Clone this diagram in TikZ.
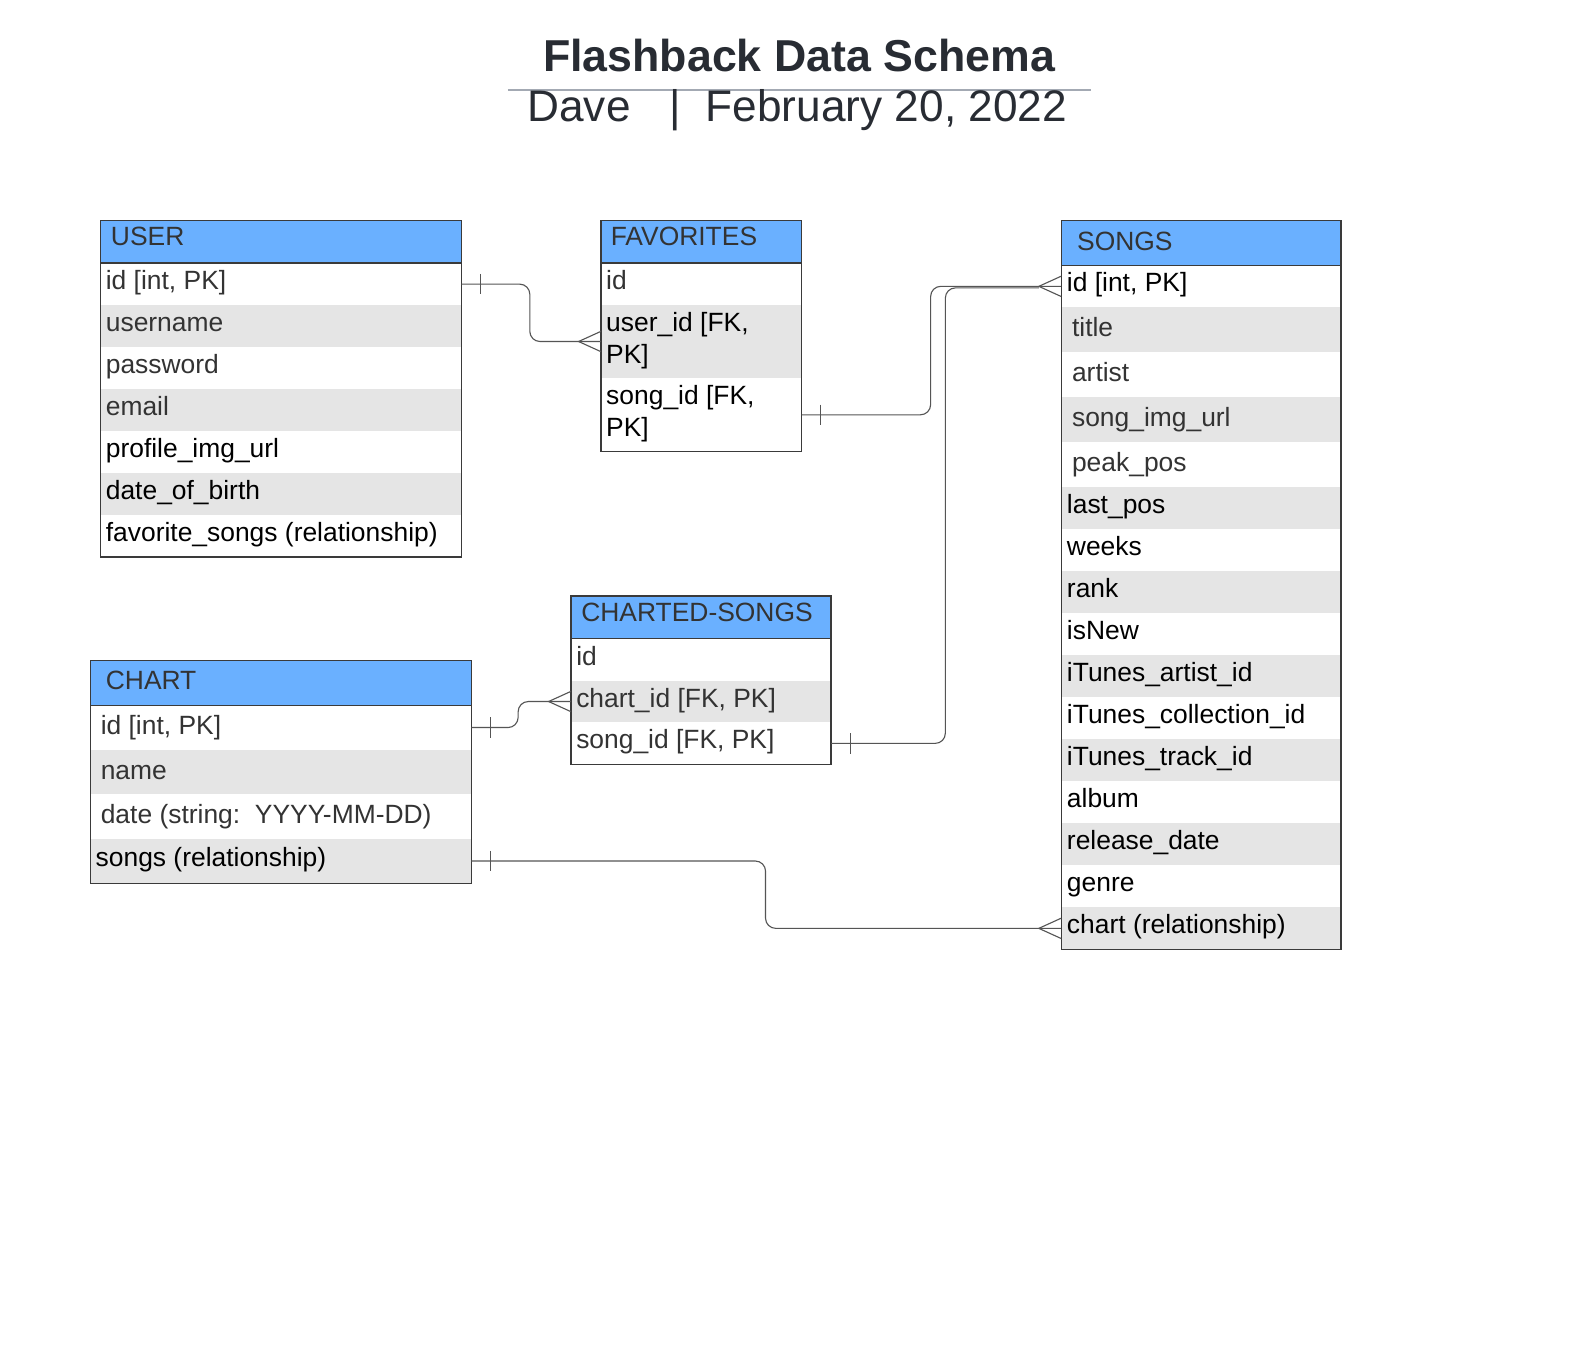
\documentclass[tikz,border=0pt]{standalone}
\usepackage{fontspec}
\setmainfont{Liberation Sans}
\usetikzlibrary{calc}
\definecolor{hdrblue}{RGB}{106,176,255}
\definecolor{rowgray}{RGB}{229,229,229}
\definecolor{dk}{HTML}{333333}
\definecolor{titlec}{HTML}{282C33}
\definecolor{bordc}{HTML}{3A3A3A}
\definecolor{connc}{HTML}{555555}
\definecolor{tline}{HTML}{A3A9B3}
\newcommand\erow[8]{%
  \node[cell,fill=#6,minimum width=#4pt,minimum height=#5pt] (#1) at (#2,#3) {};
  \node[celltext,#7] (#1t) at (#1.west) {#8};}
\tikzset{
  cell/.style={rectangle,anchor=north west,inner sep=0pt,outer sep=0pt,draw=none},
  celltext/.style={anchor=base west,inner sep=0pt,font=\fontsize{26}{31}\selectfont},
  dkrow/.style={text=dk,xshift=5pt,yshift=-5.5pt},
  bkrow/.style={text=black,xshift=5pt,yshift=-5.5pt},
  hdrA/.style={text=dk,yshift=-4pt},
  hdrB/.style={text=dk,yshift=-7pt},
  bord/.style={draw=bordc,line width=1.3pt},
  conn/.style={draw=connc,line width=1.1pt},
}
\begin{document}
\begin{tikzpicture}[x=1pt,y=-1pt]
\useasboundingbox (0,0) rectangle (1566,1337.6);
\fill[white] (0,0) rectangle (1566,1337.6);

% title
\node[anchor=base,inner sep=0pt,text=titlec,font=\bfseries\fontsize{44}{50}\selectfont] (title) at (786.5,70.5) {Flashback Data Schema};
\coordinate (tl1) at (500,89);
\coordinate (tl2) at (1074,89);
\draw[draw=tline,line width=2pt] (tl1) -- (tl2);
\node[anchor=base west,inner sep=0pt,text=titlec,font=\fontsize{43.5}{50}\selectfont] (sub1) at (519,120) {Dave};
\node[anchor=base,inner sep=0pt,text=titlec,font=\fontsize{43.5}{50}\selectfont] (sub2) at (665,120) {|};
\node[anchor=base west,inner sep=0pt,text=titlec,font=\fontsize{43.5}{50}\selectfont] (sub3) at (694.5,120) {February 20, 2022};

% USER
\erow{uh}{99}{217}{355}{42}{hdrblue}{hdrA,xshift=10pt}{USER}
\erow{u1}{99}{259}{355}{41.3}{white}{dkrow}{id [int, PK]}
\erow{u2}{99}{300.3}{355}{41.3}{rowgray}{dkrow}{username}
\erow{u3}{99}{341.6}{355}{41.3}{white}{dkrow}{password}
\erow{u4}{99}{382.9}{355}{41.3}{rowgray}{dkrow}{email}
\erow{u5}{99}{424.2}{355}{41.3}{white}{bkrow}{profile\_img\_url}
\erow{u6}{99}{465.5}{355}{41.3}{rowgray}{bkrow}{date\_of\_birth}
\erow{u7}{99}{506.8}{355}{41.3}{white}{bkrow}{favorite\_songs (relationship)}
\draw[bord] (uh.north west) rectangle (u7.south east);
\draw[bord] (uh.south west) -- (uh.south east);

% FAVORITES
\erow{fh}{591.5}{217}{197.5}{42}{hdrblue}{hdrA,xshift=9.5pt}{FAVORITES}
\erow{f1}{591.5}{259}{197.5}{41.3}{white}{dkrow}{id}
\erow{f2}{591.5}{300.3}{197.5}{71.7}{rowgray}{text=black,xshift=5pt,yshift=10.3pt}{user\_id [FK,}
\node[celltext,text=black,xshift=5pt,yshift=-21.2pt] (f2u) at (f2.west) {PK]};
\erow{f3}{591.5}{372}{197.5}{72.6}{white}{text=black,xshift=5pt,yshift=10.3pt}{song\_id [FK,}
\node[celltext,text=black,xshift=5pt,yshift=-21pt] (f3u) at (f3.west) {PK]};
\draw[bord] (fh.north west) rectangle (f3.south east);
\draw[bord] (fh.south west) -- (fh.south east);

% SONGS
\erow{sh}{1044.5}{217.2}{275.5}{44}{hdrblue}{hdrB,xshift=15.5pt}{SONGS}
\erow{s1}{1044.5}{261.2}{275.5}{41.3}{white}{bkrow,xshift=0.5pt}{id [int, PK]}
\erow{s2}{1044.5}{302.5}{275.5}{44.3}{rowgray}{dkrow,xshift=5.5pt,yshift=-1.5pt}{title}
\erow{s3}{1044.5}{346.8}{275.5}{44.3}{white}{dkrow,xshift=5.5pt,yshift=-1.5pt}{artist}
\erow{s4}{1044.5}{391.1}{275.5}{44.3}{rowgray}{dkrow,xshift=5.5pt,yshift=-1.5pt}{song\_img\_url}
\erow{s5}{1044.5}{435.4}{275.5}{44.3}{white}{dkrow,xshift=5.5pt,yshift=-1.5pt}{peak\_pos}
\erow{s6}{1044.5}{479.7}{275.5}{41.34}{rowgray}{bkrow,xshift=0.5pt}{last\_pos}
\erow{s7}{1044.5}{521.04}{275.5}{41.34}{white}{bkrow,xshift=0.5pt}{weeks}
\erow{s8}{1044.5}{562.38}{275.5}{41.34}{rowgray}{bkrow,xshift=0.5pt}{rank}
\erow{s9}{1044.5}{603.72}{275.5}{41.34}{white}{bkrow,xshift=0.5pt}{isNew}
\erow{s10}{1044.5}{645.06}{275.5}{41.34}{rowgray}{bkrow,xshift=0.5pt}{iTunes\_artist\_id}
\erow{s11}{1044.5}{686.4}{275.5}{41.34}{white}{bkrow,xshift=0.5pt}{iTunes\_collection\_id}
\erow{s12}{1044.5}{727.74}{275.5}{41.34}{rowgray}{bkrow,xshift=0.5pt}{iTunes\_track\_id}
\erow{s13}{1044.5}{769.08}{275.5}{41.34}{white}{bkrow,xshift=0.5pt}{album}
\erow{s14}{1044.5}{810.42}{275.5}{41.34}{rowgray}{bkrow,xshift=0.5pt}{release\_date}
\erow{s15}{1044.5}{851.76}{275.5}{41.34}{white}{bkrow,xshift=0.5pt}{genre}
\erow{s16}{1044.5}{893.1}{275.5}{41.34}{rowgray}{bkrow,xshift=0.5pt}{chart (relationship)}
\draw[bord] (sh.north west) rectangle (s16.south east);
\draw[bord] (sh.south west) -- (sh.south east);

% CHARTED-SONGS
\erow{ch}{562}{586.6}{256}{42.1}{hdrblue}{hdrA,xshift=10pt}{CHARTED-SONGS}
\erow{c1}{562}{628.7}{256}{41.2}{white}{dkrow}{id}
\erow{c2}{562}{669.9}{256}{41.2}{rowgray}{dkrow}{chart\_id [FK, PK]}
\erow{c3}{562}{711.1}{256}{41.2}{white}{dkrow}{song\_id [FK, PK]}
\draw[bord] (ch.north west) rectangle (c3.south east);
\draw[bord] (ch.south west) -- (ch.south east);

% CHART
\erow{hh}{89}{650}{375}{44.2}{hdrblue}{hdrB,xshift=15pt}{CHART}
\erow{h1}{89}{694.2}{375}{43.8}{white}{dkrow,xshift=5pt,yshift=-1.5pt}{id [int, PK]}
\erow{h2}{89}{738}{375}{43.8}{rowgray}{dkrow,xshift=5pt,yshift=-1.5pt}{name}
\erow{h3}{89}{781.8}{375}{43.8}{white}{dkrow,xshift=5pt,yshift=-1.5pt}{date (string:\ \ YYYY-MM-DD)}
\erow{h4}{89}{825.6}{375}{43.8}{rowgray}{bkrow}{songs (relationship)}
\draw[bord] (hh.north west) rectangle (h4.south east);
\draw[bord] (hh.south west) -- (hh.south east);

% connectors
% USER.id -> FAVORITES.user_id
\draw[conn,rounded corners=10pt] (u1.east) -| ([xshift=-70pt]f2.west) -- (f2.west);
\draw[conn] ([xshift=19pt,yshift=10pt]u1.east) -- ([xshift=19pt,yshift=-10pt]u1.east);
\draw[conn] ([yshift=10pt]f2.west) -- ([xshift=-22pt]f2.west) -- ([yshift=-10pt]f2.west);

% FAVORITES.song_id -> SONGS.id
\draw[conn,rounded corners=10pt] (f3.east) -| ([xshift=-128.5pt]s1.west) -- (s1.west);
\draw[conn] ([xshift=19pt,yshift=10pt]f3.east) -- ([xshift=19pt,yshift=-10pt]f3.east);
\draw[conn] ([yshift=10pt]s1.west) -- ([xshift=-22pt]s1.west) -- ([yshift=-10pt]s1.west);

% CHARTED.song_id -> SONGS.id
\draw[conn,rounded corners=10pt] (c3.east) -| ([xshift=-114pt,yshift=-1.5pt]s1.west) -- ([xshift=-22pt,yshift=-1.5pt]s1.west);
\draw[conn] ([xshift=19pt,yshift=10pt]c3.east) -- ([xshift=19pt,yshift=-10pt]c3.east);

% CHART.id -> CHARTED.chart_id
\draw[conn,rounded corners=10pt] (h1.east) -| ([xshift=-52pt]c2.west) -- (c2.west);
\draw[conn] ([xshift=19pt,yshift=10pt]h1.east) -- ([xshift=19pt,yshift=-10pt]h1.east);
\draw[conn] ([yshift=10pt]c2.west) -- ([xshift=-22pt]c2.west) -- ([yshift=-10pt]c2.west);

% CHART.songs -> SONGS.chart
\draw[conn,rounded corners=10pt] (h4.east) -| ([xshift=-291pt]s16.west) -- (s16.west);
\draw[conn] ([xshift=19pt,yshift=10pt]h4.east) -- ([xshift=19pt,yshift=-10pt]h4.east);
\draw[conn] ([yshift=10pt]s16.west) -- ([xshift=-22pt]s16.west) -- ([yshift=-10pt]s16.west);
\end{tikzpicture}
\end{document}
